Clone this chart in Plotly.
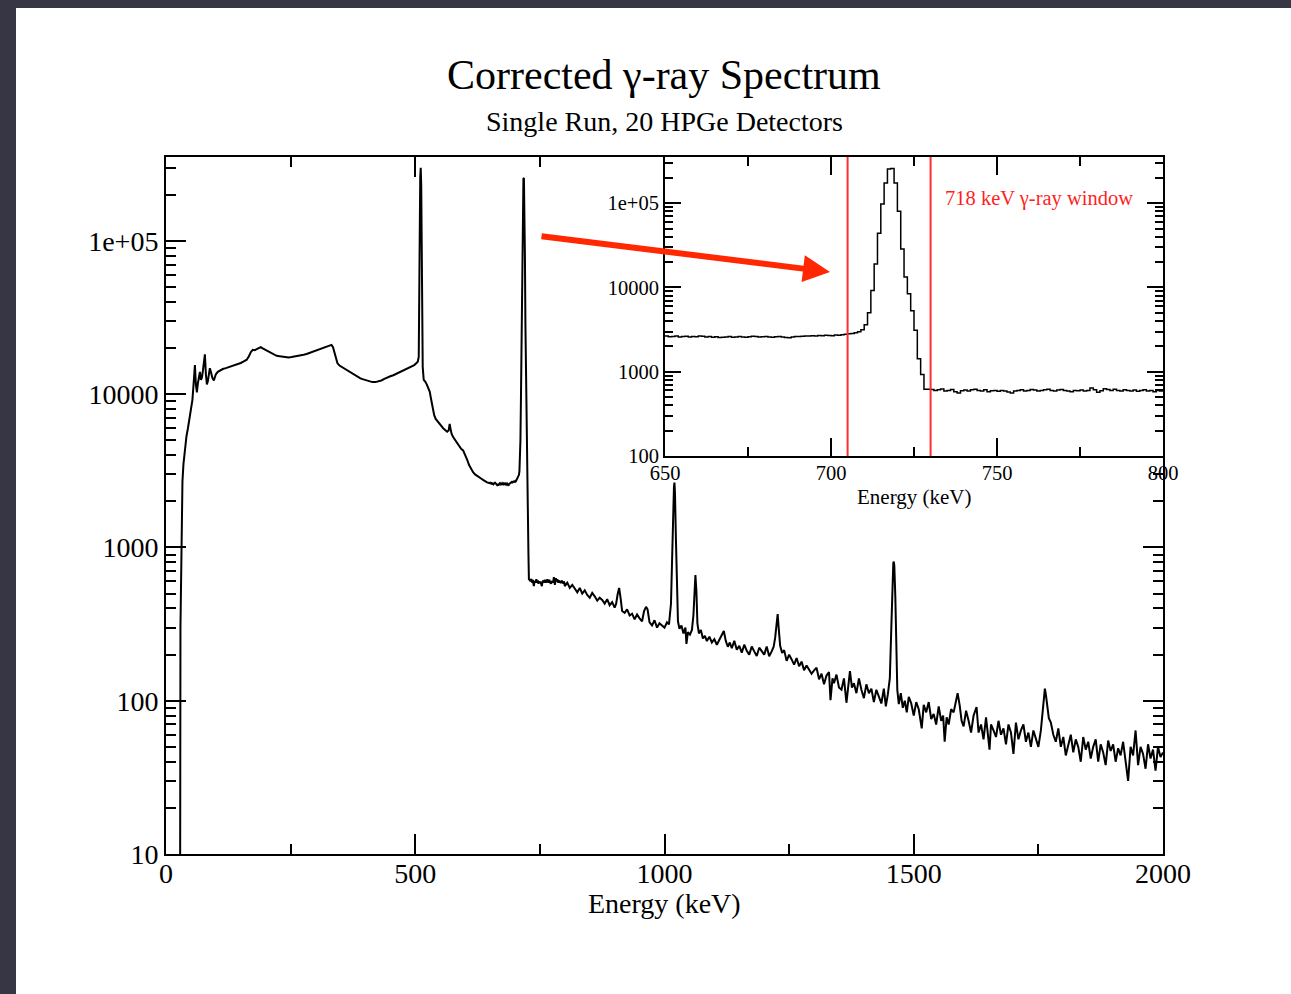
import plotly.graph_objects as go

# ---------------------------------------------------------------- data
# Low-energy part of the corrected spectrum (keV, counts per bin)
low_energy_kev = [0, 27, 28, 29, 30, 31, 33, 35, 38, 41, 44, 47, 50, 53, 56, 58, 60, 62, 64, 66,
                  68, 70, 72, 74, 76, 78, 80, 82, 84, 86, 88, 90, 93, 96, 100, 104, 108, 114, 120,
                  126, 132, 138, 144, 150, 156, 162, 166, 170, 174, 178, 182, 186, 190, 194, 198,
                  204, 210, 216, 222, 228, 234, 240, 246, 252, 258, 264, 270, 276, 282, 288, 294,
                  300, 306, 312, 318, 324, 328, 332, 335, 338, 341, 344, 348, 354, 360, 366, 372,
                  378, 384, 390, 396, 402, 408, 414, 420, 426, 432, 438, 444, 450, 456, 462, 468,
                  474, 480, 486, 492, 498, 502, 505, 507, 508, 509, 510, 511, 512, 513, 514, 515,
                  517, 520, 523, 526, 529, 532, 535, 538, 541, 544, 548, 552, 556, 560, 564, 567,
                  569, 571, 573, 576, 580, 584, 588, 592, 596, 600, 604, 608, 612, 616, 620, 624,
                  628, 632, 636, 640, 644, 648]
low_counts = [1, 1, 1, 300, 700, 1300, 2700, 3500, 4500, 5300, 6000, 6800, 7800, 9200, 12500,
              15500, 11500, 10300, 11800, 12800, 14000, 12400, 12800, 14200, 15800, 18200, 13500,
              11600, 12200, 13400, 14800, 14000, 12800, 12300, 13500, 14000, 14300, 14600, 14800,
              15000, 15200, 15500, 15700, 16000, 16400, 16800, 17600, 18800, 19500, 19400, 19700,
              20100, 20300, 19900, 19600, 19000, 18500, 18100, 17800, 17700, 17600, 17500, 17400,
              17500, 17600, 17800, 17900, 18100, 18300, 18600, 19000, 19300, 19600, 19900, 20200,
              20500, 20800, 21000, 20300, 18800, 17000, 15900, 15400, 15000, 14600, 14200, 13800,
              13400, 13000, 12700, 12500, 12300, 12100, 12000, 12000, 12100, 12300, 12600, 12900,
              13100, 13300, 13600, 13900, 14200, 14500, 14800, 15100, 15500, 15900, 16300, 17500,
              30000, 110000, 260000, 300000, 230000, 90000, 30000, 15000, 12400, 12100, 11600,
              11000, 10400, 9200, 8000, 7300, 6900, 6700, 6400, 6200, 6000, 5850, 5700, 5800,
              6400, 5900, 5500, 5250, 5000, 4750, 4550, 4400, 4300, 4050, 3750, 3450, 3250, 3100,
              3000, 2950, 2880, 2820, 2760, 2700, 2660, 2640]

# 1 keV bins from 650 to 800 keV around the 718 keV line
window_bin_start_kev = list(range(650, 800))
window_counts = [2650, 2600, 2620, 2660, 2580, 2610, 2640, 2590, 2620, 2600,
                 2650, 2630, 2580, 2610, 2560, 2600, 2540, 2570, 2590, 2610,
                 2560, 2580, 2620, 2590, 2560, 2600, 2630, 2610, 2580, 2600,
                 2620, 2590, 2570, 2600, 2620, 2580, 2550, 2530, 2590, 2610,
                 2620, 2640, 2660, 2650, 2680, 2660, 2690, 2670, 2700, 2690,
                 2680, 2720, 2710, 2750, 2790, 2820, 2850, 2900, 2980, 3150,
                 3600, 5000, 9200, 19000, 44000, 98000, 174000, 255000, 258000, 174000,
                 80000, 28500, 13300, 8400, 5300, 3100, 1430, 930, 620, 620,
                 615, 600, 610, 625, 590, 600, 615, 580, 560, 595,
                 605, 590, 610, 620, 600, 590, 610, 580, 595, 600,
                 585, 600, 590, 575, 560, 590, 600, 610, 590, 600,
                 615, 605, 590, 600, 610, 620, 600, 590, 605, 615,
                 600, 590, 580, 600, 595, 605, 590, 600, 640, 610,
                 570, 595, 630, 615, 600, 620, 600, 590, 610, 600,
                 590, 605, 585, 600, 610, 590, 600, 580, 600, 590]

# High-energy part: (keV, counts per bin)
high_band = [
    (800, 560), (805, 590), (810, 545), (815, 570), (820, 540), (825, 510), (830, 545),
    (835, 500), (840, 525), (845, 490), (850, 470), (855, 505), (860, 480), (865, 450),
    (870, 470), (875, 455), (880, 430), (885, 460), (890, 420), (895, 440), (900, 405),
    (903, 430), (906, 495), (909, 545), (912, 465), (915, 385), (920, 375), (925, 395),
    (930, 360), (935, 370), (940, 340), (945, 365), (950, 345), (955, 330), (959, 385),
    (963, 410), (966, 395), (970, 325), (975, 310), (980, 335), (985, 300), (990, 320),
    (995, 310), (1000, 300), (1005, 325), (1009, 315), (1013, 430), (1015, 800),
    (1017, 1700), (1019, 2500), (1020, 2650), (1021, 2250), (1023, 1100), (1025, 480),
    (1027, 330), (1030, 295), (1034, 310), (1038, 275), (1042, 300), (1044, 235),
    (1047, 280), (1051, 270), (1055, 290), (1058, 360), (1060, 520), (1062, 660),
    (1064, 520), (1066, 320), (1069, 275), (1073, 290), (1077, 255), (1081, 265),
    (1085, 245), (1090, 262), (1095, 240), (1100, 252), (1105, 232), (1110, 250),
    (1115, 268), (1119, 285), (1123, 245), (1127, 225), (1131, 240), (1135, 220),
    (1140, 246), (1145, 215), (1150, 228), (1155, 206), (1160, 232), (1165, 212),
    (1170, 200), (1175, 226), (1180, 210), (1185, 196), (1190, 222), (1195, 212),
    (1200, 200), (1205, 226), (1210, 195), (1215, 210), (1219, 225), (1222, 258),
    (1225, 330), (1227, 368), (1229, 300), (1232, 228), (1236, 205), (1240, 214),
    (1245, 182), (1250, 200), (1255, 186), (1260, 172), (1265, 190), (1270, 168),
    (1275, 180), (1280, 158), (1285, 170), (1290, 160), (1295, 150), (1300, 158),
    (1305, 164), (1310, 138), (1315, 150), (1320, 128), (1325, 146), (1330, 154),
    (1333, 101), (1337, 140), (1340, 130), (1345, 148), (1350, 122), (1355, 118),
    (1360, 140), (1365, 97), (1369, 136), (1372, 156), (1376, 122), (1380, 130),
    (1385, 112), (1390, 140), (1395, 118), (1400, 104), (1405, 128), (1410, 112),
    (1415, 120), (1420, 98), (1425, 118), (1430, 106), (1435, 96), (1440, 120),
    (1444, 92), (1448, 110), (1452, 140), (1455, 300), (1457, 600), (1459, 790),
    (1460, 808), (1461, 760), (1463, 480), (1465, 200), (1467, 118), (1470, 95),
    (1474, 112), (1478, 90), (1482, 100), (1486, 84), (1490, 106), (1495, 96),
    (1500, 80), (1505, 98), (1510, 88), (1516, 66), (1520, 94), (1525, 84),
    (1530, 98), (1535, 76), (1540, 82), (1545, 70), (1550, 92), (1555, 74),
    (1559, 80), (1562, 54), (1566, 78), (1570, 70), (1575, 88), (1580, 84),
    (1584, 100), (1588, 112), (1592, 94), (1596, 74), (1600, 68), (1605, 86),
    (1610, 74), (1615, 62), (1620, 80), (1626, 91), (1630, 62), (1635, 70),
    (1640, 56), (1645, 78), (1652, 48), (1655, 70), (1660, 64), (1665, 58),
    (1670, 74), (1675, 60), (1680, 66), (1685, 52), (1690, 70), (1695, 62),
    (1700, 45), (1705, 72), (1710, 56), (1715, 64), (1720, 70), (1725, 54),
    (1730, 62), (1735, 50), (1740, 64), (1745, 57), (1750, 50), (1755, 64),
    (1758, 80), (1761, 108), (1763, 120), (1765, 110), (1768, 92), (1771, 77),
    (1775, 72), (1780, 60), (1785, 54), (1790, 66), (1795, 50), (1800, 58),
    (1805, 44), (1810, 52), (1815, 60), (1820, 46), (1825, 56), (1830, 50),
    (1835, 40), (1840, 58), (1845, 48), (1850, 54), (1855, 42), (1860, 50),
    (1865, 56), (1870, 40), (1875, 52), (1880, 46), (1885, 38), (1890, 55),
    (1895, 47), (1900, 52), (1905, 40), (1910, 49), (1915, 44), (1920, 54),
    (1925, 39), (1930, 30), (1935, 50), (1940, 44), (1945, 64), (1950, 38),
    (1955, 50), (1960, 45), (1965, 36), (1970, 52), (1975, 42), (1980, 48),
    (1985, 35), (1990, 50), (1995, 43), (2000, 46),
]
high_energy_kev = [e for e, _ in high_band]
high_counts = [c for _, c in high_band]

# Integration window for the 718 keV line
window_edges_kev = [705, 730]

main_x_ticks = [0, 500, 1000, 1500, 2000]
main_x_minor = [250, 750, 1250, 1750]
main_y_ticks = [10, 100, 1000, 10000, 100000]
main_y_labels = ["10", "100", "1000", "10000", "1e+05"]
inset_x_ticks = [650, 700, 750, 800]
inset_x_minor = [675, 725, 775]
inset_y_ticks = [100, 1000, 10000, 100000]
inset_y_labels = ["100", "1000", "10000", "1e+05"]

# ---------------------------------------------------------------- figure
SERIF = "Liberation Serif"
W, H = 1291, 994
ML, MR, MT, MB = 166, 128, 157, 140
PW, PH = W - ML - MR, H - MT - MB


def px(x):
    return (x - ML) / PW


def py(y):
    return (H - MB - y) / PH


def log_minors(lo, hi):
    vals = []
    for d in range(lo, hi):
        for m in range(2, 10):
            vals.append(m * 10 ** d)
    return vals


main_energy = low_energy_kev + window_bin_start_kev + high_energy_kev
main_counts = low_counts + window_counts + high_counts

# histogram outline for the zoomed view
inset_x = window_bin_start_kev + [window_bin_start_kev[-1] + 1]
inset_y = window_counts + [window_counts[-1]]

fig = go.Figure()
fig.add_trace(go.Scatter(x=main_energy, y=main_counts, mode="lines",
                         line=dict(color="black", width=2),
                         xaxis="x", yaxis="y", hoverinfo="skip"))
fig.add_trace(go.Scatter(x=inset_x, y=inset_y, mode="lines", line_shape="hv",
                         line=dict(color="black", width=1.5),
                         xaxis="x2", yaxis="y2", hoverinfo="skip"))

axis_common = dict(showline=True, linecolor="black", linewidth=2, mirror="allticks",
                   ticks="inside", tickcolor="black", showgrid=False, zeroline=False)

fig.update_layout(
    width=W, height=H,
    margin=dict(l=ML, r=MR, t=MT, b=MB, autoexpand=False),
    paper_bgcolor="white", plot_bgcolor="white", showlegend=False,
    xaxis=dict(domain=[0, 1], range=[0, 2000], anchor="y",
               tickvals=main_x_ticks, ticktext=[str(v) for v in main_x_ticks],
               ticklen=20, tickwidth=2, ticklabelstandoff=-7,
               minor=dict(tickvals=main_x_minor, ticklen=10, tickwidth=2,
                          ticks="inside", tickcolor="black"),
               tickfont=dict(family=SERIF, size=28, color="black"),
               **axis_common),
    yaxis=dict(domain=[0, 1], type="log", range=[1, 5.548], anchor="x",
               tickvals=main_y_ticks, ticktext=main_y_labels,
               ticklen=20, tickwidth=2,
               minor=dict(tickvals=log_minors(1, 6), ticklen=10, tickwidth=2,
                          ticks="inside", tickcolor="black"),
               tickfont=dict(family=SERIF, size=28, color="black"),
               **axis_common),
    xaxis2=dict(domain=[px(665), 1], range=[650, 800], anchor="y2",
                tickvals=inset_x_ticks, ticktext=[str(v) for v in inset_x_ticks],
                ticklen=18, tickwidth=2, ticklabelstandoff=-3,
                minor=dict(tickvals=inset_x_minor, ticklen=9, tickwidth=2,
                           ticks="inside", tickcolor="black"),
                tickfont=dict(family=SERIF, size=20.5, color="black"),
                **axis_common),
    yaxis2=dict(domain=[py(456), 1], type="log", range=[2, 5.548], anchor="x2",
                tickvals=inset_y_ticks, ticktext=inset_y_labels,
                ticklen=16, tickwidth=2,
                minor=dict(tickvals=log_minors(2, 6), ticklen=8, tickwidth=2,
                           ticks="inside", tickcolor="black"),
                tickfont=dict(family=SERIF, size=20.5, color="black"),
                **axis_common),
)

# window boundaries
for e in window_edges_kev:
    fig.add_shape(type="line", xref="x2", yref="y2 domain", x0=e, x1=e, y0=0, y1=1,
                  line=dict(color="rgb(255,45,45)", width=2))

# slide frame
FRAME = "#363644"
fig.add_shape(type="rect", xref="paper", yref="paper", layer="above",
              x0=px(0), x1=px(16), y0=py(H), y1=py(0), line_width=0, fillcolor=FRAME)
fig.add_shape(type="rect", xref="paper", yref="paper", layer="above",
              x0=px(0), x1=px(W), y0=py(8), y1=py(0), line_width=0, fillcolor=FRAME)

annotations = [
    dict(text="Corrected γ-ray Spectrum", x=px(664), y=py(75), xref="paper", yref="paper",
         showarrow=False, xanchor="center", yanchor="middle",
         font=dict(family=SERIF, size=42, color="black")),
    dict(text="Single Run, 20 HPGe Detectors", x=px(664), y=py(122), xref="paper", yref="paper",
         showarrow=False, xanchor="center", yanchor="middle",
         font=dict(family=SERIF, size=28, color="black")),
    dict(text="Energy (keV)", x=px(664), y=py(903), xref="paper", yref="paper",
         showarrow=False, xanchor="center", yanchor="middle",
         font=dict(family=SERIF, size=28, color="black")),
    dict(text="Energy (keV)", x=0.5, y=py(497), xref="x2 domain", yref="paper",
         showarrow=False, xanchor="center", yanchor="middle",
         font=dict(family=SERIF, size=21, color="black")),
    dict(text="718 keV γ-ray window", x=762.5, y=(456 - 198) / (456 - 157),
         xref="x2", yref="y2 domain", showarrow=False, xanchor="center", yanchor="middle",
         font=dict(family=SERIF, size=20.5, color="rgb(255,30,30)")),
    dict(text="", x=px(830), y=py(272), xref="paper", yref="paper",
         ax=-290, ay=-36, axref="pixel", ayref="pixel",
         showarrow=True, arrowhead=2, arrowsize=0.9, arrowwidth=6,
         arrowcolor="rgb(255,40,0)"),
]
fig.update_layout(annotations=annotations)

fig.write_html("out.html")
